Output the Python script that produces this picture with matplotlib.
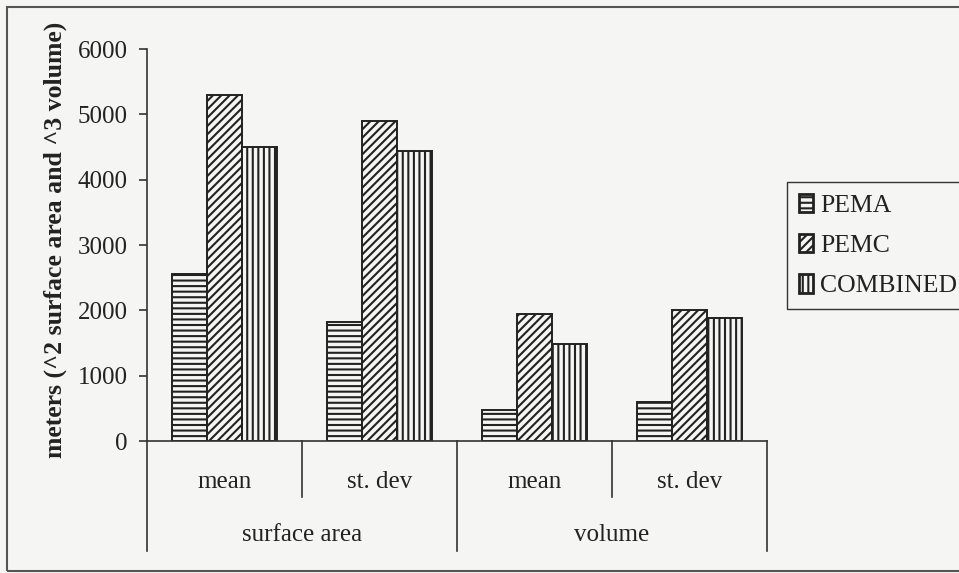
import numpy as np
import matplotlib
matplotlib.use('Agg')
import matplotlib.pyplot as plt
from matplotlib.patches import Rectangle
from matplotlib.lines import Line2D

# data
groups = ['surface area', 'volume']
stats = ['mean', 'st. dev', 'mean', 'st. dev']
series = ['PEMA', 'PEMC', 'COMBINED']
pema = [2560, 1820, 480, 600]
pemc = [5290, 4900, 1940, 2000]
combined = [4500, 4440, 1480, 1880]
yticks = [0, 1000, 2000, 3000, 4000, 5000, 6000]

plt.rcParams['font.family'] = ['Liberation Serif', 'DejaVu Serif']
plt.rcParams['hatch.linewidth'] = 1.5
plt.rcParams['hatch.color'] = '#222222'

W, H = 959, 573
bg = '#f5f5f3'
fig = plt.figure(figsize=(W / 100, H / 100), dpi=100, facecolor=bg)

# axes placed by pixel measures of the reference
x0, x1, ytop, ybot = 147, 767, 49, 441
ax = fig.add_axes([x0 / W, 1 - ybot / H, (x1 - x0) / W, (ybot - ytop) / H])
ax.set_facecolor(bg)

x = np.arange(len(stats))
w = 0.225
hatches = ['---', '////', '|||']
for i, (vals, name) in enumerate(zip([pema, pemc, combined], series)):
    ax.bar(x + (i - 1) * w, vals, w, facecolor=bg, edgecolor='#222222',
           linewidth=1.4, hatch=hatches[i], label=name)

ax.set_xlim(-0.5, len(stats) - 0.5)
ax.set_ylim(0, 6000)
ax.set_yticks(yticks)
ax.set_yticklabels([str(t) for t in yticks], fontsize=18, color='#222222')
ax.tick_params(axis='y', direction='out', length=6, width=1.2, color='#333333', pad=8)
ax.set_xticks([])
for s in ['top', 'right']:
    ax.spines[s].set_visible(False)
ax.spines['left'].set_color('#333333')
ax.spines['bottom'].set_color('#333333')
ax.spines['left'].set_linewidth(1.2)
ax.spines['bottom'].set_linewidth(1.2)

# two-level category axis
axh = ybot - ytop
tr = ax.get_xaxis_transform()
short_y = -(497 - ybot) / axh
long_y = -(551 - ybot) / axh
for xv in [-0.5, 1.5, 3.5]:
    ax.add_line(Line2D([xv, xv], [0, long_y], transform=tr, color='#333333', lw=1.2, clip_on=False))
for xv in [0.5, 2.5]:
    ax.add_line(Line2D([xv, xv], [0, short_y], transform=tr, color='#333333', lw=1.2, clip_on=False))
for xv, lab in zip(x, stats):
    ax.text(xv, -(482 - ybot) / axh, lab, transform=tr, ha='center', va='center',
            fontsize=18, color='#222222')
for j, lab in enumerate(groups):
    ax.text(2 * j + 0.5, -(535 - ybot) / axh, lab, transform=tr, ha='center', va='center',
            fontsize=18, color='#222222')

fig.text(55 / W, 1 - 240 / H, 'meters (^2 surface area and ^3 volume)', rotation=90,
         ha='center', va='center', fontsize=18.5, fontweight='bold', color='#222222')

leg = fig.legend(loc='upper left', bbox_to_anchor=(787 / W, 1 - 182 / H), fontsize=18.5,
                 frameon=True, fancybox=False, edgecolor='#333333', facecolor=bg,
                 framealpha=1, handlelength=0.55, handleheight=0.75, handletextpad=0.3,
                 labelspacing=0.65, borderpad=0.45, borderaxespad=0)
leg.get_frame().set_linewidth(1.0)
for t in leg.get_texts():
    t.set_color('#222222')
for p in leg.get_patches():
    p.set_linewidth(2.0)

# outer chart frame
fig.patches.append(Rectangle((7 / W, 1 - 571 / H), 1.0, (571 - 7) / H, transform=fig.transFigure,
                             fill=False, edgecolor='#555555', lw=1.5))

fig.savefig('out.png', dpi=100, facecolor=bg)
